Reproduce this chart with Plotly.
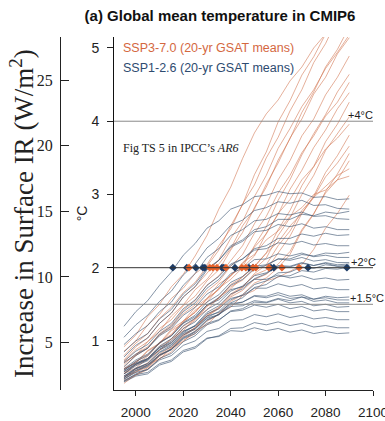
import plotly.graph_objects as go

# ---------------- data ----------------
years = [1995, 2000, 2005, 2010, 2015, 2020, 2025, 2030, 2035, 2040,
         2045, 2050, 2055, 2060, 2065, 2070, 2075, 2080, 2085, 2090]

ssp370_runs = [
    [0.92, 1.08, 1.33, 1.50, 1.74, 1.91, 2.16, 2.44, 2.80, 3.10, 3.49, 3.84, 4.10, 4.29, 4.55, 4.74, 5.00, 5.19, 5.44, 5.65],
    [0.80, 0.97, 1.10, 1.31, 1.46, 1.66, 1.80, 2.02, 2.24, 2.57, 2.86, 3.27, 3.58, 3.99, 4.28, 4.63, 4.88, 5.19, 5.43, 5.72],
    [0.74, 0.92, 1.04, 1.24, 1.38, 1.60, 1.74, 1.93, 2.11, 2.40, 2.63, 2.97, 3.26, 3.63, 3.90, 4.20, 4.43, 4.72, 4.94, 5.18],
    [0.71, 0.80, 0.99, 1.13, 1.34, 1.49, 1.70, 1.84, 2.05, 2.26, 2.57, 2.80, 3.14, 3.43, 3.77, 4.03, 4.37, 4.60, 4.92, 5.14],
    [0.64, 0.80, 0.90, 1.10, 1.22, 1.42, 1.55, 1.76, 1.89, 2.10, 2.30, 2.60, 2.86, 3.20, 3.46, 3.80, 4.03, 4.36, 4.60, 4.89],
    [0.55, 0.68, 0.79, 0.97, 1.08, 1.27, 1.39, 1.58, 1.70, 1.90, 2.01, 2.30, 2.56, 2.92, 3.20, 3.54, 3.83, 4.09, 4.40, 4.64],
    [0.62, 0.70, 0.86, 0.96, 1.14, 1.24, 1.42, 1.53, 1.72, 1.84, 2.00, 2.16, 2.47, 2.73, 3.07, 3.33, 3.64, 3.88, 4.17, 4.39],
    [0.50, 0.62, 0.70, 0.87, 0.98, 1.17, 1.28, 1.47, 1.58, 1.77, 1.87, 2.02, 2.20, 2.52, 2.78, 3.12, 3.38, 3.72, 3.96, 4.26],
    [0.57, 0.67, 0.75, 0.92, 1.02, 1.20, 1.30, 1.48, 1.58, 1.74, 1.83, 1.98, 2.13, 2.44, 2.68, 3.00, 3.26, 3.60, 3.83, 4.06],
    [0.47, 0.58, 0.64, 0.80, 0.90, 1.08, 1.18, 1.36, 1.46, 1.64, 1.74, 1.90, 1.97, 2.20, 2.43, 2.74, 2.98, 3.30, 3.53, 3.81],
    [0.45, 0.53, 0.61, 0.76, 0.85, 1.01, 1.10, 1.27, 1.36, 1.54, 1.63, 1.79, 1.86, 2.00, 2.18, 2.50, 2.73, 3.04, 3.28, 3.56],
    [0.52, 0.57, 0.68, 0.75, 0.90, 0.99, 1.14, 1.22, 1.38, 1.46, 1.62, 1.69, 1.82, 1.87, 1.95, 2.04, 2.25, 2.54, 2.74, 2.99],
    [0.68, 0.82, 0.92, 1.08, 1.19, 1.37, 1.49, 1.68, 1.81, 2.02, 2.18, 2.47, 2.70, 3.02, 3.26, 3.57, 3.80, 4.07, 4.26, 4.53],
    [0.60, 0.72, 0.81, 0.98, 1.09, 1.27, 1.39, 1.57, 1.71, 1.90, 2.05, 2.28, 2.46, 2.74, 2.93, 3.20, 3.38, 3.62, 3.77, 3.96],
    [0.55, 0.63, 0.76, 0.87, 1.03, 1.14, 1.31, 1.42, 1.60, 1.71, 1.88, 2.01, 2.20, 2.35, 2.57, 2.74, 2.96, 3.11, 3.26, 3.35],
    [0.72, 0.88, 0.99, 1.17, 1.29, 1.48, 1.61, 1.82, 1.97, 2.24, 2.48, 2.82, 3.10, 3.47, 3.76, 4.12, 4.40, 4.74, 4.98, 5.29],
    [0.42, 0.54, 0.63, 0.79, 0.89, 1.06, 1.17, 1.34, 1.45, 1.62, 1.73, 1.92, 2.04, 2.30, 2.50, 2.78, 2.96, 3.24, 3.43, 3.66],
    [0.62, 0.70, 0.87, 0.97, 1.16, 1.27, 1.46, 1.58, 1.78, 1.88, 2.07, 2.18, 2.38, 2.50, 2.70, 2.82, 3.00, 3.06, 3.20, 3.25],
    [0.50, 0.60, 0.67, 0.82, 0.92, 1.08, 1.18, 1.34, 1.44, 1.60, 1.69, 1.84, 1.91, 2.05, 2.22, 2.52, 2.74, 3.02, 3.20, 3.46],
    [0.86, 1.00, 1.22, 1.36, 1.58, 1.72, 1.92, 2.04, 2.30, 2.53, 2.87, 3.13, 3.50, 3.78, 4.14, 4.43, 4.80, 5.06, 5.40, 5.66],
]

ssp126_runs = [
    [1.20, 1.40, 1.55, 1.76, 1.94, 2.17, 2.33, 2.54, 2.64, 2.80, 2.86, 2.97, 2.99, 3.04, 3.01, 3.02, 2.96, 2.97, 2.93, 2.94],
    [1.05, 1.22, 1.35, 1.54, 1.68, 1.90, 2.05, 2.27, 2.40, 2.58, 2.65, 2.78, 2.82, 2.90, 2.88, 2.92, 2.85, 2.86, 2.81, 2.80],
    [0.95, 1.10, 1.21, 1.40, 1.53, 1.76, 1.92, 2.14, 2.26, 2.44, 2.52, 2.64, 2.66, 2.74, 2.72, 2.76, 2.70, 2.71, 2.67, 2.66],
    [0.85, 1.00, 1.10, 1.30, 1.43, 1.64, 1.78, 1.99, 2.10, 2.28, 2.36, 2.49, 2.51, 2.59, 2.56, 2.60, 2.54, 2.56, 2.52, 2.52],
    [0.78, 0.94, 1.04, 1.24, 1.38, 1.60, 1.74, 1.97, 2.10, 2.30, 2.38, 2.52, 2.56, 2.66, 2.66, 2.73, 2.71, 2.76, 2.74, 2.77],
    [0.72, 0.86, 0.95, 1.13, 1.24, 1.44, 1.56, 1.76, 1.88, 2.05, 2.12, 2.24, 2.26, 2.34, 2.32, 2.36, 2.31, 2.33, 2.30, 2.30],
    [0.65, 0.80, 0.90, 1.09, 1.20, 1.40, 1.52, 1.72, 1.84, 2.03, 2.12, 2.26, 2.30, 2.40, 2.40, 2.46, 2.43, 2.47, 2.44, 2.45],
    [0.70, 0.82, 0.90, 1.07, 1.17, 1.35, 1.46, 1.64, 1.74, 1.92, 1.99, 2.11, 2.12, 2.19, 2.16, 2.20, 2.15, 2.17, 2.14, 2.14],
    [0.60, 0.72, 0.80, 0.97, 1.07, 1.25, 1.35, 1.53, 1.63, 1.80, 1.88, 2.02, 2.04, 2.12, 2.10, 2.14, 2.09, 2.11, 2.07, 2.07],
    [0.55, 0.68, 0.76, 0.93, 1.03, 1.21, 1.31, 1.49, 1.59, 1.76, 1.84, 1.99, 2.03, 2.12, 2.12, 2.18, 2.16, 2.20, 2.19, 2.21],
    [0.58, 0.69, 0.75, 0.91, 1.00, 1.17, 1.26, 1.43, 1.52, 1.68, 1.75, 1.89, 1.93, 2.03, 2.02, 2.07, 2.03, 2.06, 2.02, 2.02],
    [0.50, 0.62, 0.69, 0.85, 0.94, 1.11, 1.21, 1.39, 1.48, 1.64, 1.71, 1.85, 1.92, 2.02, 2.01, 2.06, 2.03, 2.07, 2.04, 2.05],
    [0.52, 0.63, 0.69, 0.84, 0.92, 1.08, 1.16, 1.32, 1.40, 1.56, 1.63, 1.77, 1.82, 1.93, 1.94, 2.01, 1.99, 2.04, 2.02, 2.03],
    [0.48, 0.59, 0.65, 0.80, 0.88, 1.04, 1.12, 1.28, 1.36, 1.52, 1.59, 1.73, 1.77, 1.88, 1.89, 1.96, 1.94, 1.99, 1.98, 2.01],
    [0.62, 0.74, 0.82, 0.98, 1.07, 1.24, 1.33, 1.49, 1.56, 1.70, 1.74, 1.84, 1.84, 1.90, 1.86, 1.89, 1.84, 1.86, 1.83, 1.84],
    [0.55, 0.66, 0.73, 0.89, 0.97, 1.13, 1.21, 1.37, 1.44, 1.58, 1.62, 1.72, 1.72, 1.78, 1.74, 1.77, 1.71, 1.73, 1.70, 1.70],
    [0.50, 0.60, 0.66, 0.81, 0.89, 1.05, 1.13, 1.29, 1.36, 1.49, 1.53, 1.62, 1.61, 1.66, 1.61, 1.63, 1.57, 1.59, 1.56, 1.56],
    [0.60, 0.70, 0.76, 0.91, 0.98, 1.13, 1.20, 1.34, 1.39, 1.51, 1.53, 1.61, 1.59, 1.63, 1.58, 1.60, 1.54, 1.56, 1.52, 1.52],
    [0.45, 0.55, 0.61, 0.76, 0.83, 0.99, 1.07, 1.22, 1.28, 1.41, 1.44, 1.53, 1.52, 1.57, 1.52, 1.54, 1.48, 1.50, 1.46, 1.47],
    [0.52, 0.62, 0.67, 0.81, 0.88, 1.03, 1.10, 1.24, 1.29, 1.40, 1.42, 1.49, 1.46, 1.50, 1.44, 1.47, 1.41, 1.43, 1.40, 1.40],
    [0.48, 0.57, 0.61, 0.74, 0.80, 0.94, 1.00, 1.13, 1.17, 1.28, 1.29, 1.36, 1.33, 1.37, 1.32, 1.35, 1.30, 1.32, 1.29, 1.29],
    [0.44, 0.52, 0.55, 0.67, 0.72, 0.85, 0.90, 1.03, 1.07, 1.17, 1.18, 1.25, 1.22, 1.26, 1.21, 1.24, 1.19, 1.21, 1.18, 1.18],
    [0.46, 0.54, 0.57, 0.69, 0.74, 0.87, 0.92, 1.04, 1.06, 1.14, 1.13, 1.18, 1.14, 1.17, 1.12, 1.15, 1.10, 1.13, 1.10, 1.11],
    [0.58, 0.68, 0.74, 0.88, 0.95, 1.10, 1.17, 1.31, 1.36, 1.47, 1.48, 1.55, 1.53, 1.58, 1.55, 1.60, 1.57, 1.61, 1.59, 1.60],
]

# years in which each model's 20-yr mean crosses +2 °C
ssp126_cross_years = [2015.6, 2021.5, 2025.3, 2028.3, 2029.1, 2036.3, 2037.1, 2041.8,
                      2047.7, 2049.4, 2057.0, 2058.2, 2072.6, 2089.0]
ssp370_cross_years = [2022.4, 2031.2, 2032.5, 2034.2, 2038.0, 2044.7, 2046.4, 2049.4,
                      2050.6, 2056.1, 2061.6, 2068.8]
crossing_level = 2.0

ref_levels = [4.0, 2.0, 1.5]
ref_labels = ["+4°C", "+2°C", "+1.5°C"]
ref_colors = ["#8a8a8a", "#333333", "#8a8a8a"]

x_ticks = [2000, 2020, 2040, 2060, 2080, 2100]
y_ticks = [1, 2, 3, 4, 5]
ir_ticks = [5, 10, 15, 20, 25]

# ---------------- styling ----------------
ORANGE_LINE = "rgba(208,112,72,0.55)"
BLUE_LINE = "rgba(58,82,112,0.62)"
ORANGE_DOT = "#e8622a"
BLUE_DOT = "#1d3c66"
SANS = "Liberation Sans, Arial, sans-serif"
SERIF = "Liberation Serif, Times New Roman, serif"

fig = go.Figure()

for run in ssp370_runs:
    fig.add_trace(go.Scatter(x=years, y=run, mode="lines",
                             line=dict(color=ORANGE_LINE, width=1),
                             hoverinfo="skip", showlegend=False))
for run in ssp126_runs:
    fig.add_trace(go.Scatter(x=years, y=run, mode="lines",
                             line=dict(color=BLUE_LINE, width=1),
                             hoverinfo="skip", showlegend=False))

# reference lines
for lvl, col in zip(ref_levels, ref_colors):
    fig.add_shape(type="line", xref="x domain", yref="y", x0=0, x1=1.0,
                  y0=lvl, y1=lvl, line=dict(color=col, width=1), layer="above")

# crossing markers
fig.add_trace(go.Scatter(x=ssp126_cross_years, y=[crossing_level] * len(ssp126_cross_years),
                         mode="markers", marker=dict(color=BLUE_DOT, size=6, symbol="diamond"),
                         showlegend=False, hoverinfo="skip"))
fig.add_trace(go.Scatter(x=ssp370_cross_years, y=[crossing_level] * len(ssp370_cross_years),
                         mode="markers", marker=dict(color=ORANGE_DOT, size=6, symbol="diamond"),
                         showlegend=False, hoverinfo="skip"))

# invisible trace for secondary (IR) axis
fig.add_trace(go.Scatter(x=[2000], y=[10], yaxis="y2", mode="markers",
                         marker=dict(opacity=0), showlegend=False, hoverinfo="skip"))

W, H = 385, 421
ML, MR, MT, MB = 55, 12, 37, 31
plot_w = W - ML - MR
plot_h = H - MT - MB
x_dom0 = (114 - ML) / plot_w

fig.update_layout(
    width=W, height=H,
    margin=dict(l=ML, r=MR, t=MT, b=MB, autoexpand=False),
    paper_bgcolor="white", plot_bgcolor="white",
    showlegend=False,
    title=dict(text="<b>(a) Global mean temperature in CMIP6</b>",
               x=220 / W, xref="container", xanchor="center",
               y=1 - 16 / H, yref="container", yanchor="middle",
               automargin=False,
               font=dict(family=SANS, size=15, color="#111")),
    xaxis=dict(domain=[x_dom0, 1], range=[1990.8, 2100], tickvals=x_ticks,
               ticks="outside", ticklen=5, tickcolor="#222", showline=True,
               linecolor="#222", linewidth=1, showgrid=False, zeroline=False,
               automargin=False, ticklabeloverflow="allow",
               tickfont=dict(family=SANS, size=13.5, color="#222"),
               ticklabelstandoff=5),
    yaxis=dict(range=[0.33, 5.15], tickvals=y_ticks, ticks="outside", ticklen=6,
               tickcolor="#222", showline=True, linecolor="#111", linewidth=1,
               showgrid=False, zeroline=False, automargin=False,
               tickfont=dict(family=SANS, size=14, color="#222"),
               ticklabelstandoff=5,
               title=dict(text="°C", font=dict(family=SANS, size=14, color="#222"), standoff=0)),
    yaxis2=dict(overlaying="y", anchor="free", position=(60 - ML) / plot_w, side="left",
                range=[1.37, 28.31], tickvals=ir_ticks, ticks="inside", ticklen=8,
                tickcolor="#222", showline=True, linecolor="#222", linewidth=1,
                showgrid=False, zeroline=False, automargin=False,
                tickfont=dict(family=SERIF, size=16, color="#222"),
                ticklabelstandoff=4),
)

# reference level labels
for lvl, lab, xoff in zip(ref_levels, ref_labels, [2088.5, 2090.0, 2089.6]):
    fig.add_annotation(x=xoff, y=lvl, xref="x", yref="y", text=lab, showarrow=False,
                       xanchor="left", yanchor="middle", yshift=6,
                       font=dict(family=SANS, size=11, color="#222"))

# legend texts
fig.add_annotation(x=(121 - ML) / plot_w, y=(390 - 48) / plot_h, xref="paper", yref="paper",
                   text="SSP3-7.0 (20-yr GSAT means)", showarrow=False, xanchor="left",
                   yanchor="middle", font=dict(family=SANS, size=12.5, color="#d4683f"))
fig.add_annotation(x=(121 - ML) / plot_w, y=(390 - 68) / plot_h, xref="paper", yref="paper",
                   text="SSP1-2.6 (20-yr GSAT means)", showarrow=False, xanchor="left",
                   yanchor="middle", font=dict(family=SANS, size=12.5, color="#2e4b70"))
fig.add_annotation(x=(121 - ML) / plot_w, y=(390 - 148) / plot_h, xref="paper", yref="paper",
                   text="Fig TS 5 in IPCC’s <i>AR6</i>", showarrow=False, xanchor="left",
                   yanchor="middle", font=dict(family=SERIF, size=12, color="#222"))

# big left label
fig.add_annotation(x=(22 - ML) / plot_w, y=(390 - 214) / plot_h, xref="paper", yref="paper",
                   text="Increase in Surface IR (W/m<sup>2</sup>)", showarrow=False,
                   textangle=-90, xanchor="center", yanchor="middle",
                   font=dict(family=SERIF, size=27, color="#222"))

fig.write_html("out.html", config={"displayModeBar": False},
               post_script="document.body.style.margin='0';document.body.style.overflow='hidden';")
